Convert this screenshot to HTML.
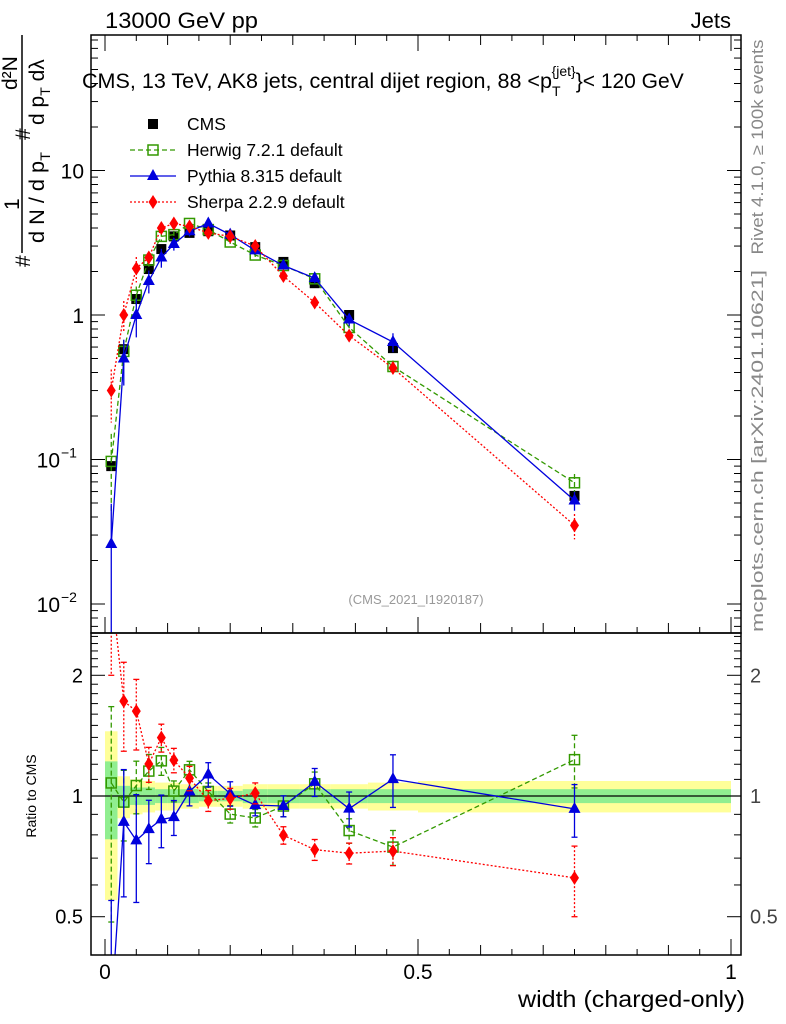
<!DOCTYPE html>
<html><head><meta charset="utf-8"><style>
html,body{margin:0;padding:0;background:#fff;overflow:hidden;width:786px;height:1024px;}
svg{font-family:"Liberation Sans",sans-serif;display:block;overflow:hidden;}
</style></head><body>
<svg id="c" width="786" height="1024" xmlns="http://www.w3.org/2000/svg">
<text x="105" y="28" font-size="22" textLength="153" lengthAdjust="spacingAndGlyphs">13000 GeV pp</text>
<text x="731" y="28" font-size="22" text-anchor="end">Jets</text>
<text x="82" y="88" font-size="21"><tspan textLength="470" lengthAdjust="spacingAndGlyphs">CMS, 13 TeV, AK8 jets, central dijet region, 88 &lt;p</tspan><tspan font-size="14" dy="8">T</tspan><tspan font-size="14" dy="-20" dx="-9">{jet}</tspan><tspan dy="12">}&lt; 120 GeV</tspan></text>
<g transform="translate(0,270) rotate(-90)" font-size="21">
<text x="3" y="30">#</text>
<text x="27" y="44" textLength="91" lengthAdjust="spacingAndGlyphs">d N / d p<tspan font-size="14" dy="6">T</tspan></text>
<line x1="17" y1="22" x2="235" y2="22" stroke="#000" stroke-width="1.5"/>
<text x="60" y="19">1</text>
<text x="130" y="30">#</text>
<text x="145" y="44">d p<tspan font-size="14" dy="6">T</tspan><tspan dy="-6"> dλ</tspan></text>
<text x="180" y="17">d²N</text>
</g>
<text transform="translate(763,147) rotate(-90)" font-size="16.5" fill="#888" text-anchor="middle" textLength="215" lengthAdjust="spacingAndGlyphs">Rivet 4.1.0, ≥ 100k events</text>
<text transform="translate(763,451) rotate(-90)" font-size="16.5" fill="#888" text-anchor="middle" textLength="362" lengthAdjust="spacingAndGlyphs">mcplots.cern.ch [arXiv:2401.10621]</text>
<text x="416" y="604" font-size="13" fill="#999" text-anchor="middle">(CMS_2021_I1920187)</text>
<text transform="translate(36,796) rotate(-90)" font-size="14" text-anchor="middle">Ratio to CMS</text>
<text x="518" y="1007" font-size="23" textLength="227" lengthAdjust="spacingAndGlyphs">width (charged-only)</text>
<g id="g"></g>
</svg>
<script>
const xCenters=[0.01,0.03,0.05,0.07,0.09,0.11,0.135,0.165,0.2,0.24,0.285,0.335,0.39,0.46,0.75];
const binEdges=[0,0.02,0.04,0.06,0.08,0.1,0.12,0.15,0.18,0.22,0.26,0.31,0.36,0.42,0.5,1.0];
const cms=[0.09,0.58,1.29,2.08,2.86,3.5,3.7,3.8,3.55,2.95,2.33,1.66,1.0,0.59,0.056];
const herwig=[0.097,0.56,1.37,2.4,3.5,3.6,4.3,3.9,3.2,2.6,2.2,1.78,0.82,0.44,0.069];
const pythia=[0.026,0.5,1.0,1.72,2.5,3.1,3.8,4.3,3.6,2.8,2.2,1.8,0.93,0.65,0.052];
const sherpa=[0.3,1.0,2.1,2.5,4.0,4.3,4.1,3.7,3.5,3.0,1.86,1.22,0.72,0.43,0.035];
const herwigErr=[0.55,0.2,0.15,0.1,0.08,0.06,0.05,0.05,0.05,0.05,0.06,0.07,0.07,0.1,0.15];
const pythiaErr=[0.9,0.35,0.3,0.18,0.15,0.1,0.08,0.07,0.07,0.06,0.06,0.08,0.1,0.15,0.15];
const sherpaErr=[0.4,0.25,0.2,0.1,0.08,0.07,0.07,0.06,0.06,0.06,0.05,0.06,0.06,0.08,0.2];
const bandYellow=[0.45,0.12,0.1,0.09,0.08,0.08,0.07,0.06,0.06,0.07,0.07,0.07,0.07,0.08,0.09];
const bandGreen=[0.22,0.06,0.05,0.05,0.04,0.04,0.04,0.03,0.03,0.04,0.04,0.04,0.04,0.04,0.04];
const xTickMajor=[0,0.5,1];
const xTickLabels=["0","0.5","1"];

const NS="http://www.w3.org/2000/svg",g=document.getElementById('g');
const L=91,R=741,T=35,MB=633,RB=955;
const X=v=>105+v*626;
const Y=v=>315-Math.log10(v)*144.5;
const RY=v=>796-Math.log10(v)*401;
function el(t,a,p){const e=document.createElementNS(NS,t);for(const k in a)e.setAttribute(k,a[k]);(p||g).appendChild(e);return e;}
const defs=el('defs',{});
const c1=el('clipPath',{id:'cm'},defs);el('rect',{x:L,y:T,width:R-L,height:MB-T},c1);
const c2=el('clipPath',{id:'cr'},defs);el('rect',{x:L,y:MB,width:R-L,height:RB-MB},c2);
const gm=el('g',{'clip-path':'url(#cm)'});


const gr=el('g',{'clip-path':'url(#cr)'});


for(let i=0;i<xCenters.length;i++){
 const x0=X(binEdges[i]),x1=X(binEdges[i+1]);
 const y=el('rect',{x:x0,y:RY(1+bandYellow[i]),width:x1-x0,height:RY(1-bandYellow[i])-RY(1+bandYellow[i]),fill:'#ffff99'},gr);
 
 
 const gg=el('rect',{x:x0,y:RY(1+bandGreen[i]),width:x1-x0,height:RY(1-bandGreen[i])-RY(1+bandGreen[i]),fill:'#90ee90'},gr);
 
 
}
el('line',{x1:L,y1:RY(1),x2:R,y2:RY(1),stroke:'#000','stroke-width':1.3},gr);
function marker(p,type,x,y,col){
 let m;
 if(type==='sq')m=el('rect',{x:x-5,y:y-5,width:10,height:10,fill:'#000'},p);
 else if(type==='osq')m=el('rect',{x:x-5,y:y-5,width:10,height:10,fill:'none',stroke:col,'stroke-width':1.5},p);
 else if(type==='tri')m=el('polygon',{points:`${x},${y-7} ${x-6},${y+4} ${x+6},${y+4}`,fill:col},p);
 else m=el('polygon',{points:`${x},${y-7} ${x-4.5},${y} ${x},${y+7} ${x+4.5},${y}`,fill:col},p);
 return m;
}
const series=[
 {name:'herwig',v:herwig,e:herwigErr,col:'#339900',type:'osq',dash:'5,3'},
 {name:'pythia',v:pythia,e:pythiaErr,col:'#0000dd',type:'tri',dash:''},
 {name:'sherpa',v:sherpa,e:sherpaErr,col:'#ff0000',type:'dia',dash:'2,2'}];
cms.forEach((v,i)=>{const m=marker(gm,'sq',X(xCenters[i]),Y(v));
 
 });
series.forEach(s=>{
 const pts=s.v.map((v,i)=>X(xCenters[i])+','+Y(v)).join(' ');
 const pl=el('polyline',{points:pts,fill:'none',stroke:s.col,'stroke-width':1.3,'stroke-dasharray':s.dash},gm);
 
 
 const rp=s.v.map((v,i)=>X(xCenters[i])+','+RY(v/cms[i])).join(' ');
 const rl=el('polyline',{points:rp,fill:'none',stroke:s.col,'stroke-width':1.3,'stroke-dasharray':s.dash},gr);
 
 
 s.v.forEach((v,i)=>{
  const x=X(xCenters[i]);
  const e=s.e[i];
  el('line',{x1:x,x2:x,y1:Y(v*(1+e)),y2:Y(v*Math.max(0.05,1-e)),stroke:s.col,'stroke-width':1.3,'stroke-dasharray':s.dash},gm);
  const m=marker(gm,s.type,x,Y(v),s.col);
  
  
  const r=v/cms[i];
  el('line',{x1:x,x2:x,y1:RY(r*(1+e)),y2:RY(r*Math.max(0.05,1-e)),stroke:s.col,'stroke-width':1.3,'stroke-dasharray':s.dash},gr);
  el('line',{x1:x-3,x2:x+3,y1:RY(r*(1+e)),y2:RY(r*(1+e)),stroke:s.col,'stroke-width':1.3},gr);
  el('line',{x1:x-3,x2:x+3,y1:RY(r*(1-e)),y2:RY(r*(1-e)),stroke:s.col,'stroke-width':1.3},gr);
  const rm=marker(gr,s.type,x,RY(r),s.col);
  
  
 });
});
el('rect',{x:L,y:T,width:R-L,height:MB-T,fill:'none',stroke:'#000','stroke-width':1.5});
el('rect',{x:L,y:MB,width:R-L,height:RB-MB,fill:'none',stroke:'#000','stroke-width':1.5});
for(let d=-3;d<=2;d++)for(let k=1;k<10;k++){const v=k*Math.pow(10,d),y=Y(v);if(y<T||y>MB)continue;
 const len=k===1?14:7;el('line',{x1:L,x2:L+len,y1:y,y2:y,stroke:'#000'});el('line',{x1:R,x2:R-len,y1:y,y2:y,stroke:'#000'});}
[[10,'10'],[1,'1']].forEach(([v,t])=>{const tx=el('text',{x:84,y:Y(v)+8,'font-size':21,'text-anchor':'end'});tx.textContent=t;
 });
[[0.1,'−1'],[0.01,'−2']].forEach(([v,t])=>{const tx=el('text',{x:60,y:Y(v)+8,'font-size':21,'text-anchor':'end'});tx.textContent='10';
 
 const s=el('text',{x:61,y:Y(v)-2,'font-size':14});s.textContent=t;});
for(let v=0.4;v<=2.6;v+=0.1){const y=RY(v);if(y<MB||y>RB)continue;const maj=Math.abs(v-0.5)<1e-6||Math.abs(v-1)<1e-6||Math.abs(v-2)<1e-6;
 const len=maj?14:7;el('line',{x1:L,x2:L+len,y1:y,y2:y,stroke:'#000'});el('line',{x1:R,x2:R-len,y1:y,y2:y,stroke:'#000'});}
[[2,'2'],[1,'1'],[0.5,'0.5']].forEach(([v,t])=>{
 const a=el('text',{x:83,y:RY(v)+7,'font-size':20,'text-anchor':'end'});a.textContent=t;
 
 const b=el('text',{x:750,y:RY(v)+7,'font-size':20,fill:'#444'});b.textContent=t;});
for(let k=0;k<=20;k++){const v=k*0.05,x=X(v);const len=k%10===0?16:(k%2===0?10:6);
 el('line',{x1:x,x2:x,y1:RB,y2:RB-len,stroke:'#000'});el('line',{x1:x,x2:x,y1:MB,y2:MB-len,stroke:'#000'});
 el('line',{x1:x,x2:x,y1:T,y2:T+len,stroke:'#000'});}
xTickMajor.forEach((v,i)=>{const t=el('text',{x:X(v),y:979,'font-size':21,'text-anchor':'middle'});t.textContent=xTickLabels[i];
 });
const leg=[['CMS','sq','#000',''],['Herwig 7.2.1 default','osq','#339900','5,3'],['Pythia 8.315 default','tri','#0000dd',''],['Sherpa 2.2.9 default','dia','#ff0000','2,2']];
leg.forEach((l,i)=>{const y=124+i*26;
 if(i>0)el('line',{x1:130,x2:176,y1:y,y2:y,stroke:l[2],'stroke-width':1.3,'stroke-dasharray':l[3]});
 marker(g,l[1],153,y,l[2]);
 const t=el('text',{x:187,y:y+6,'font-size':17.5});t.textContent=l[0];
 });
</script>
</body></html>
